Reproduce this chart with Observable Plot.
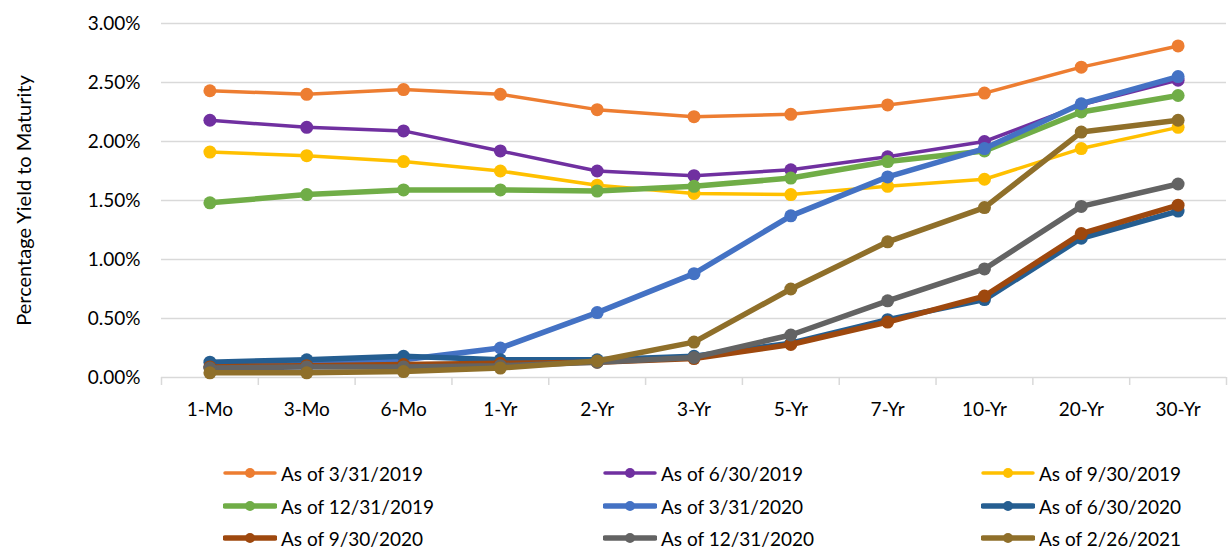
<!DOCTYPE html>
<html><head><meta charset="utf-8">
<script src="https://cdn.jsdelivr.net/npm/d3@7"></script>
<script src="https://cdn.jsdelivr.net/npm/@observablehq/plot@0.6"></script>
<style>
body{margin:0;background:#fff;font-family:Lato,"Open Sans",sans-serif;}
#chart{position:relative;width:1229px;height:549px;overflow:hidden}
#chart svg{display:block}
.item{position:absolute;display:flex;align-items:center;height:24px;font-size:19px;color:#000;white-space:nowrap;font-family:Lato,"Open Sans",sans-serif}
.item svg{margin-right:4px}
</style></head><body><div id="chart"></div>
<script>
// Categories (maturities)
const maturities = ["1-Mo","3-Mo","6-Mo","1-Yr","2-Yr","3-Yr","5-Yr","7-Yr","10-Yr","20-Yr","30-Yr"];
// Y tick values (percent)
const yTicks = [0, 0.5, 1.0, 1.5, 2.0, 2.5, 3.0];
// Series names
const seriesNames = ["As of 3/31/2019","As of 6/30/2019","As of 9/30/2019","As of 12/31/2019","As of 3/31/2020","As of 6/30/2020","As of 9/30/2020","As of 12/31/2020","As of 2/26/2021"];
// Series values (percent yield)
const asOf_2019_03_31 = [2.43, 2.40, 2.44, 2.40, 2.27, 2.21, 2.23, 2.31, 2.41, 2.63, 2.81];
const asOf_2019_06_30 = [2.18, 2.12, 2.09, 1.92, 1.75, 1.71, 1.76, 1.87, 2.00, 2.31, 2.52];
const asOf_2019_09_30 = [1.91, 1.88, 1.83, 1.75, 1.63, 1.56, 1.55, 1.62, 1.68, 1.94, 2.12];
const asOf_2019_12_31 = [1.48, 1.55, 1.59, 1.59, 1.58, 1.62, 1.69, 1.83, 1.92, 2.25, 2.39];
const asOf_2020_03_31 = [0.09, 0.11, 0.15, 0.25, 0.55, 0.88, 1.37, 1.70, 1.94, 2.32, 2.55];
const asOf_2020_06_30 = [0.13, 0.15, 0.18, 0.15, 0.15, 0.18, 0.29, 0.49, 0.66, 1.18, 1.41];
const asOf_2020_09_30 = [0.09, 0.10, 0.11, 0.12, 0.13, 0.16, 0.28, 0.47, 0.69, 1.22, 1.46];
const asOf_2020_12_31 = [0.08, 0.09, 0.09, 0.10, 0.13, 0.17, 0.36, 0.65, 0.92, 1.45, 1.64];
const asOf_2021_02_26 = [0.04, 0.04, 0.05, 0.08, 0.14, 0.30, 0.75, 1.15, 1.44, 2.08, 2.18];
const seriesValues = [asOf_2019_03_31, asOf_2019_06_30, asOf_2019_09_30, asOf_2019_12_31, asOf_2020_03_31, asOf_2020_06_30, asOf_2020_09_30, asOf_2020_12_31, asOf_2021_02_26];

// Styles
const colors = ["#ED7D31","#7030A0","#FFC000","#70AD47","#4472C4","#255E91","#9E480E","#636363","#8F6F2A"];
const lineWidths = [3.5, 3.5, 3.5, 5.5, 5.5, 5.5, 5.5, 5.5, 5.5];
const yLabel = "Percentage Yield to Maturity";

const rows = [];
seriesNames.forEach((s, k) => seriesValues[k].forEach((v, i) => rows.push({series: s, k, i, v})));
const bounds = d3.range(maturities.length + 1).map(i => i - 0.5);

const seriesMarks = [];
seriesNames.forEach((s, k) => {
  const d = rows.filter(r => r.k === k);
  seriesMarks.push(Plot.line(d, {x: "i", y: "v", stroke: colors[k], strokeWidth: lineWidths[k], strokeLinejoin: "round", strokeLinecap: "round"}));
  seriesMarks.push(Plot.dot(d, {x: "i", y: "v", r: 6.5, fill: colors[k], stroke: "none"}));
});

const plot = Plot.plot({
  width: 1229, height: 430,
  marginTop: 23, marginBottom: 53, marginLeft: 161, marginRight: 3,
  style: {fontFamily: "Lato, 'Open Sans', sans-serif", fontSize: "19px", color: "#000", background: "transparent"},
  x: {type: "linear", domain: [-0.5, maturities.length - 0.5], ticks: d3.range(maturities.length), tickFormat: i => maturities[i], tickSize: 0, tickPadding: 25, label: null},
  y: {domain: [0, 3], ticks: yTicks, tickFormat: d => d.toFixed(2) + "%", tickSize: 0, tickPadding: 21, label: yLabel, labelAnchor: "center", labelOffset: 145},
  marks: [
    Plot.ruleY(yTicks, {stroke: "#d9d9d9", strokeWidth: 1.5}),
    Plot.ruleX(bounds, {y1: 0, y2: 0, insetBottom: -8, stroke: "#d9d9d9", strokeWidth: 1.5}),
    ...seriesMarks
  ]
});
const chart = document.getElementById("chart");
chart.appendChild(plot);
const ylab = Array.from(plot.querySelectorAll("text")).find(t => t.textContent.startsWith(yLabel));
if (ylab) { ylab.textContent = yLabel; ylab.style.fontSize = "20px"; }

// Legend (3 columns)
const colX = [223, 603, 981];
const rowY = [473, 506, 538];
seriesNames.forEach((s, k) => {
  const item = document.createElement("div");
  item.className = "item";
  item.style.left = colX[k % 3] + "px";
  item.style.top = (rowY[Math.floor(k / 3)] - 12) + "px";
  const sw = d3.create("svg").attr("width", 54).attr("height", 16);
  sw.append("line").attr("x1", 2).attr("x2", 52).attr("y1", 8).attr("y2", 8)
    .attr("stroke", colors[k]).attr("stroke-width", lineWidths[k]).attr("stroke-linecap", "round");
  sw.append("circle").attr("cx", 27).attr("cy", 8).attr("r", 5).attr("fill", colors[k]);
  item.appendChild(sw.node());
  const span = document.createElement("span");
  span.textContent = s;
  item.appendChild(span);
  chart.appendChild(item);
});
</script>
</body></html>
